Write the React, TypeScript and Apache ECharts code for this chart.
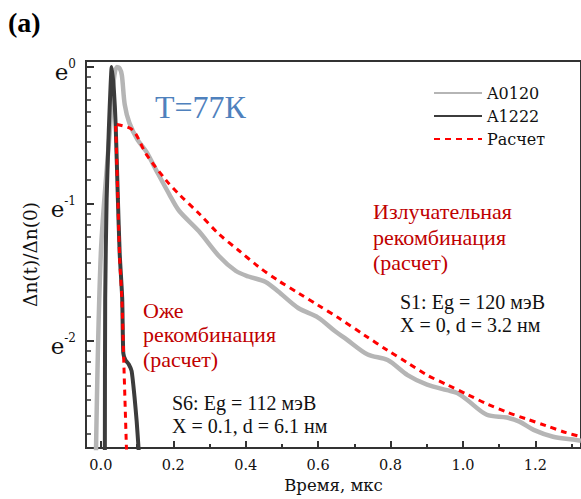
import React, { useEffect, useRef } from "react";
import * as echarts from "echarts";

// time in µs, value = ln(Δn(t)/Δn(0))
const a0120: [number, number][] = [
  [-0.014, -2.9], [0.0, -1.36], [0.025, -0.46], [0.036, -0.09], [0.044, 0.0], [0.052, -0.01],
  [0.058, -0.06], [0.066, -0.275], [0.079, -0.41], [0.101, -0.53], [0.126, -0.62], [0.156, -0.77],
  [0.189, -0.93], [0.216, -1.05], [0.271, -1.2], [0.326, -1.38], [0.373, -1.49], [0.408, -1.53],
  [0.455, -1.57], [0.49, -1.64], [0.545, -1.76], [0.6, -1.83], [0.647, -1.93], [0.674, -1.98],
  [0.737, -2.1], [0.792, -2.14], [0.847, -2.25], [0.901, -2.32], [0.956, -2.36], [0.984, -2.38],
  [1.011, -2.43], [1.066, -2.54], [1.121, -2.56], [1.156, -2.59], [1.195, -2.65], [1.249, -2.7],
  [1.304, -2.72], [1.326, -2.73],
];

const a1222: [number, number][] = [
  [0.011, -2.9], [0.012, -1.69], [0.016, -0.96], [0.022, -0.46], [0.027, -0.13], [0.03, 0.0],
  [0.036, -0.17], [0.041, -0.43], [0.047, -0.96], [0.052, -1.36], [0.059, -1.69], [0.062, -2.09],
  [0.068, -2.14], [0.077, -2.17], [0.085, -2.22], [0.093, -2.41], [0.099, -2.59], [0.104, -2.78],
  [0.107, -2.9],
];

const calcAuger: [number, number][] = [
  [0.041, -0.43], [0.047, -0.96], [0.052, -1.4], [0.058, -1.69], [0.063, -2.12], [0.072, -2.9],
];

const calcRadiative: [number, number][] = [
  [0.044, -0.42], [0.088, -0.46], [0.126, -0.64], [0.181, -0.83], [0.216, -0.93], [0.271, -1.07],
  [0.326, -1.22], [0.381, -1.34], [0.436, -1.46], [0.49, -1.56], [0.545, -1.65], [0.6, -1.74],
  [0.655, -1.83], [0.729, -1.96], [0.792, -2.07], [0.847, -2.16], [0.901, -2.25], [0.956, -2.32],
  [1.011, -2.39], [1.066, -2.46], [1.121, -2.52], [1.175, -2.57], [1.23, -2.62], [1.285, -2.67],
  [1.326, -2.7],
];

const xTickValues = [0, 0.2, 0.4, 0.6, 0.8, 1.0, 1.2];
const xMinorValues = [0.1, 0.3, 0.5, 0.7, 0.9, 1.1, 1.3];
const yMajorValues = [0, -1, -2];

const seriesNames = ["A0120", "A1222", "Расчет"];

const SERIF = "Liberation Serif";
const AXSERIF = "DejaVu Serif";

export default function App() {
  const ref = useRef<HTMLDivElement>(null);
  useEffect(() => {
    if (!ref.current) return;
    const chart = echarts.init(ref.current, undefined, { renderer: "svg" });
    const yMin = -2.783;
    const yMax = 0.0435;
    const xMin = -0.041;
    const xMax = 1.326;
    // minor ticks: linear steps between successive powers of e, shown on ln scale
    const yMinor: number[] = [];
    for (let n = 0; n < 3; n++) {
      const hi = Math.exp(-n);
      const lo = Math.exp(-n - 1);
      for (let k = 1; k <= 8; k++) {
        const v = Math.log(lo + (k * (hi - lo)) / 9);
        if (v > yMin) yMinor.push(v);
      }
    }
    const calcData: any[] = [...calcAuger, [null, null], ...calcRadiative];

    const option: any = {
      animation: false,
      backgroundColor: "#ffffff",
      grid: {
        left: 86,
        right: -4,
        top: 61,
        bottom: 48,
        show: true,
        borderColor: "#333",
        borderWidth: 2,
        containLabel: false,
      },
      legend: {
        data: seriesNames,
        orient: "vertical",
        left: 428,
        top: 78,
        itemWidth: 48,
        itemHeight: 14,
        itemGap: 3,
        itemStyle: { opacity: 0 },
        textStyle: { fontFamily: AXSERIF, fontSize: 16, color: "#111", lineHeight: 20 },
      },
      xAxis: [
        {
          type: "value",
          min: xMin,
          max: xMax,
          name: "Время, мкс",
          nameLocation: "middle",
          nameGap: 28,
          nameTextStyle: { fontFamily: AXSERIF, fontSize: 16.5, color: "#111" },
          axisLine: { show: true, onZero: false, lineStyle: { color: "#333", width: 2 } },
          axisTick: { show: true, inside: true, length: 7, customValues: xTickValues, lineStyle: { color: "#333", width: 2 } },
          axisLabel: {
            customValues: xTickValues,
            formatter: (v: number) => v.toFixed(1),
            margin: 9,
            fontFamily: AXSERIF,
            fontSize: 14.5,
            color: "#111",
          },
          splitLine: { show: false },
        },
        {
          type: "value",
          min: xMin,
          max: xMax,
          position: "bottom",
          axisLine: { show: false, onZero: false },
          axisTick: { show: true, inside: true, length: 4, customValues: xMinorValues, lineStyle: { color: "#333", width: 2 } },
          axisLabel: { show: false },
          splitLine: { show: false },
        },
      ],
      yAxis: [
        {
          type: "value",
          min: yMin,
          max: yMax,
          name: "Δn(t)/Δn(0)",
          nameLocation: "middle",
          nameGap: 46,
          nameTextStyle: { fontFamily: AXSERIF, fontSize: 18.5, color: "#111" },
          axisLine: { show: true, onZero: false, lineStyle: { color: "#333", width: 2 } },
          axisTick: { show: true, inside: true, length: 8, customValues: yMajorValues, lineStyle: { color: "#333", width: 2 } },
          axisLabel: {
            customValues: yMajorValues,
            formatter: (v: number) => `{e|e}{s|${v === 0 ? "0" : String(v)}}`,
            margin: 10,
            padding: [10, 0, 0, 0],
            rich: {
              e: { fontFamily: AXSERIF, fontSize: 23, color: "#111", lineHeight: 28 },
              s: { fontFamily: AXSERIF, fontSize: 12, color: "#111", verticalAlign: "top", lineHeight: 13 },
            },
          },
          splitLine: { show: false },
        },
        {
          type: "value",
          min: yMin,
          max: yMax,
          position: "left",
          axisLine: { show: false, onZero: false },
          axisTick: { show: true, inside: true, length: 5, customValues: yMinor, lineStyle: { color: "#333", width: 1.5 } },
          axisLabel: { show: false },
          splitLine: { show: false },
        },
      ],
      series: [
        {
          name: "A0120",
          type: "line",
          data: a0120,
          symbol: "none",
          smooth: 0.3,
          clip: true,
          lineStyle: { color: "#b5b5b5", width: 4.5 },
          itemStyle: { color: "#b5b5b5" },
          z: 2,
        },
        {
          name: "A1222",
          type: "line",
          data: a1222,
          symbol: "none",
          smooth: 0.2,
          clip: true,
          lineStyle: { color: "#3c3c3c", width: 4 },
          itemStyle: { color: "#3c3c3c" },
          z: 3,
        },
        {
          name: "Расчет",
          type: "line",
          data: calcData,
          symbol: "none",
          smooth: 0.3,
          connectNulls: false,
          clip: true,
          lineStyle: { color: "#ff0000", width: 3, type: [6, 5] },
          itemStyle: { color: "#ff0000" },
          z: 4,
        },
      ],
      graphic: [
        { type: "text", left: 8, top: 8, style: { text: "(a)", fontFamily: SERIF, fontSize: 28, fontWeight: "bold", fill: "#000" } },
        { type: "text", x: 155, y: 107, style: { text: "T=77К", fontFamily: SERIF, fontSize: 32, fill: "#4f81bd", verticalAlign: "middle" } },
        { type: "text", x: 373, y: 211, style: { text: "Излучательная", fontFamily: SERIF, fontSize: 22, fill: "#c00000", verticalAlign: "middle" } },
        { type: "text", x: 373, y: 237, style: { text: "рекомбинация", fontFamily: SERIF, fontSize: 22, fill: "#c00000", verticalAlign: "middle" } },
        { type: "text", x: 373, y: 262, style: { text: "(расчет)", fontFamily: SERIF, fontSize: 22, fill: "#c00000", verticalAlign: "middle" } },
        { type: "text", x: 143, y: 310, style: { text: "Оже", fontFamily: SERIF, fontSize: 22, fill: "#c00000", verticalAlign: "middle" } },
        { type: "text", x: 143, y: 334, style: { text: "рекомбинация", fontFamily: SERIF, fontSize: 22, fill: "#c00000", verticalAlign: "middle" } },
        { type: "text", x: 143, y: 359, style: { text: "(расчет)", fontFamily: SERIF, fontSize: 22, fill: "#c00000", verticalAlign: "middle" } },
        { type: "text", x: 400, y: 302, style: { text: "S1: Eg = 120 мэВ", fontFamily: SERIF, fontSize: 20, fill: "#111", verticalAlign: "middle" } },
        { type: "text", x: 400, y: 325, style: { text: "X = 0, d = 3.2 нм", fontFamily: SERIF, fontSize: 20, fill: "#111", verticalAlign: "middle" } },
        { type: "text", x: 172, y: 403, style: { text: "S6: Eg = 112 мэВ", fontFamily: SERIF, fontSize: 20, fill: "#111", verticalAlign: "middle" } },
        { type: "text", x: 172, y: 426, style: { text: "X = 0.1, d = 6.1 нм", fontFamily: SERIF, fontSize: 20, fill: "#111", verticalAlign: "middle" } },
      ],
    };
    chart.setOption(option);
    return () => chart.dispose();
  }, []);
  return (
    <div
      ref={ref}
      style={{ position: "fixed", left: 0, top: 0, width: 581, height: 499, background: "#fff" }}
    />
  );
}
